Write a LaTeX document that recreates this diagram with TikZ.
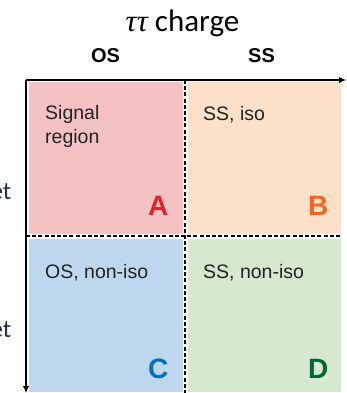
\documentclass[tikz,border=0pt]{standalone}
\usepackage{fontspec}
\setmainfont{Liberation Sans}
\newfontfamily\calib{Carlito}
\newfontfamily\greekserif{Liberation Serif}
\usetikzlibrary{arrows.meta}
\definecolor{qa}{HTML}{F4C2C2}
\definecolor{qb}{HTML}{FCE0C8}
\definecolor{qc}{HTML}{BDD7EE}
\definecolor{qd}{HTML}{D6E8D0}
\definecolor{la}{HTML}{E3202A}
\definecolor{lb}{HTML}{F26522}
\definecolor{lc}{HTML}{0070C0}
\definecolor{ld}{HTML}{006837}
\definecolor{txt}{HTML}{222222}
\definecolor{side}{HTML}{1F3050}
\begin{document}
\begin{tikzpicture}[x=1pt,y=-1pt,
 quad/.style={draw=none, inner sep=0, anchor=north west},
 lab/.style={anchor=base west, inner sep=0, font=\fontsize{19.5}{24}\selectfont, text=txt, align=left},
 letter/.style={anchor=base west, inner sep=0, font=\fontsize{28}{28}\selectfont\bfseries},
 head/.style={anchor=base, inner sep=0, font=\fontsize{20}{20}\selectfont\bfseries},
 sidelab/.style={anchor=base east, inner sep=0, font=\calib\fontsize{25}{25}\selectfont, text=side},
 divider/.style={line width=1.8pt, dash pattern=on 4pt off 2.2pt},
 axis/.style={line width=1.3pt, -{Latex[length=7pt,width=6.5pt]}}]
\useasboundingbox (0,0) rectangle (347,393);
\fill[white] (0,0) rectangle (347,393);
% quadrants
\node[quad, fill=qa, minimum width=154pt, minimum height=152pt] (A) at (29,82) {};
\node[quad, fill=qb, minimum width=153pt, minimum height=152pt] (B) at (188,82) {};
\node[quad, fill=qc, minimum width=154pt, minimum height=153pt] (C) at (29,239) {};
\node[quad, fill=qd, minimum width=153pt, minimum height=153pt] (D) at (188,239) {};
% dividers
\coordinate (vt) at (185,80);
\coordinate (vb) at (185,393);
\coordinate (hl) at (26,236);
\coordinate (hr) at (341,236);
\draw[divider] (vt) -- (vb);
\draw[divider] (hl) -- (hr);
% axes
\coordinate (O) at (26,80);
\coordinate (xe) at (346,80);
\coordinate (ye) at (26,393);
\draw[axis] (O) -- (xe);
\draw[axis] (O) -- (ye);
% headings
\node[anchor=base, inner sep=0, font=\calib\fontsize{31}{31}\selectfont] (title) at (182.5,32) {{\greekserif\itshape ττ} charge};
\node[head] (os) at (105.5,63) {OS};
\node[head] (ss) at (261.5,63) {SS};
\node[sidelab] (et1) at (11.5,199) {et};
\node[sidelab] (et2) at (11.5,337) {et};
% labels
\node[lab] (la1) at (45,143) {Signal\\region};
\node[lab] (lb1) at (203,121) {SS, iso};
\node[lab] (lc1) at (45,278) {OS, non-iso};
\node[lab] (ld1) at (203,278) {SS, non-iso};
% letters
\node[letter, text=la] (ta) at (148,215) {A};
\node[letter, text=lb] (tb) at (308,215) {B};
\node[letter, text=lc] (tc) at (148,378) {C};
\node[letter, text=ld] (td) at (308,378) {D};
\end{tikzpicture}
\end{document}
